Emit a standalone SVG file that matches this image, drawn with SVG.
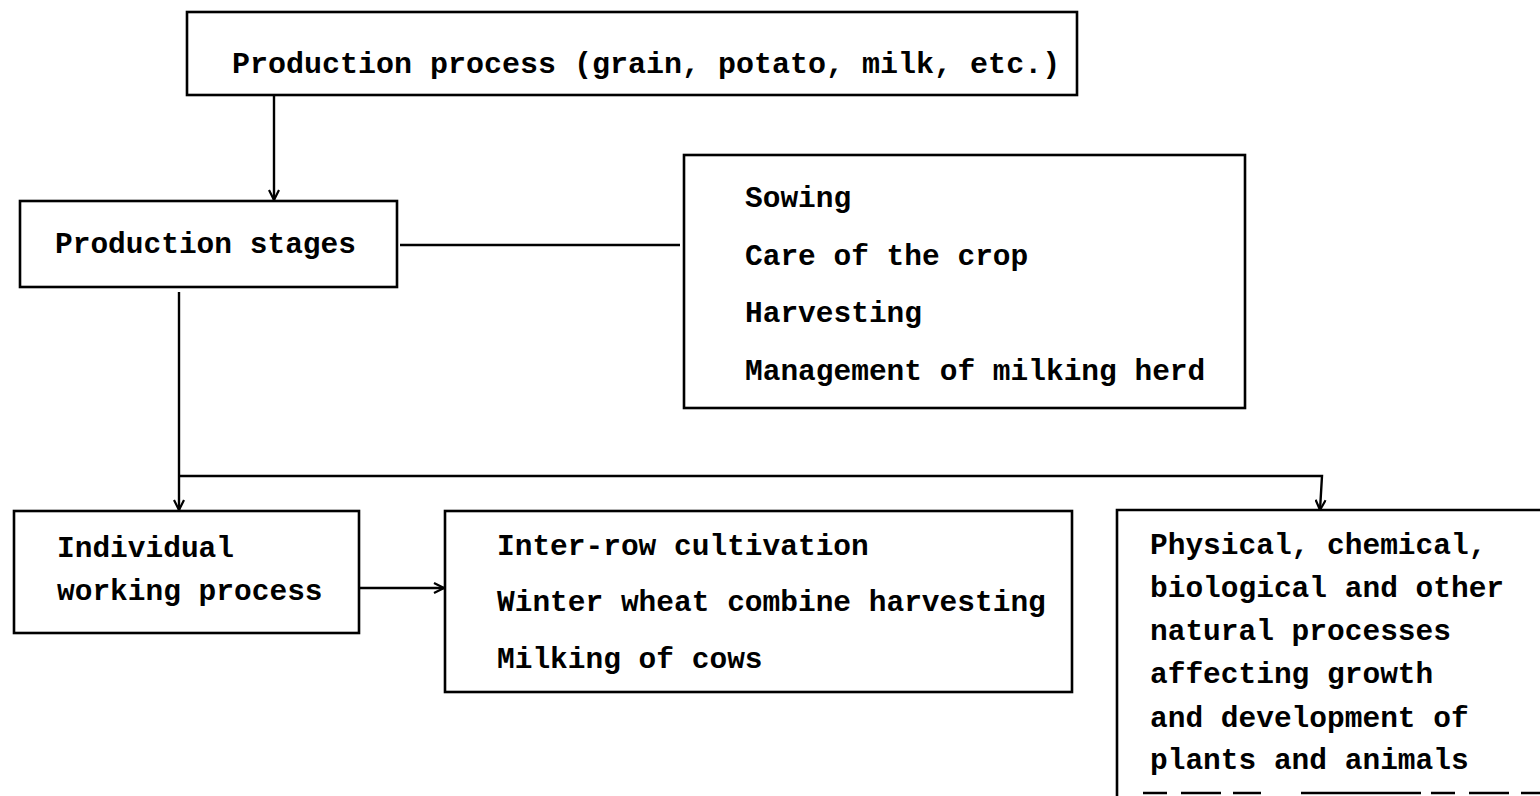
<svg xmlns="http://www.w3.org/2000/svg" width="1540" height="796" viewBox="0 0 1540 796">
<style>
.box{fill:none;stroke:#000;stroke-width:2.6}
.ln{fill:none;stroke:#000;stroke-width:2.4}
text{font-family:"Liberation Mono","Courier New",monospace;font-size:29.5px;font-weight:bold;fill:#000}
</style>
<defs>
<marker id="ah" viewBox="0 0 12 12" refX="11" refY="6" markerWidth="12" markerHeight="12" markerUnits="userSpaceOnUse" orient="auto">
<path d="M1,1 L11,6 L1,11" fill="none" stroke="#000" stroke-width="2.2"/>
</marker>
</defs>
<rect width="1540" height="796" fill="#fff"/>
<g id="connectors">
<line class="ln" x1="274" y1="95" x2="274" y2="200" marker-end="url(#ah)"/>
<line class="ln" x1="400" y1="245" x2="680" y2="245"/>
<line class="ln" x1="179" y1="292" x2="179" y2="510" marker-end="url(#ah)"/>
<polyline class="ln" points="179,476 1322,476 1320,510" marker-end="url(#ah)"/>
<line class="ln" x1="360" y1="588" x2="444" y2="588" marker-end="url(#ah)"/>
</g>
<g id="node-production-process">
<rect class="box" x="187" y="12" width="890" height="83"/>
<text x="232" y="73" style="font-size:30px">Production process (grain, potato, milk, etc.)</text>
</g>
<g id="node-production-stages">
<rect class="box" x="20" y="201" width="377" height="86"/>
<text x="55" y="253">Production stages</text>
</g>
<g id="node-stages-list">
<rect class="box" x="684" y="155" width="561" height="253"/>
<text x="745" y="207">Sowing</text>
<text x="745" y="265">Care of the crop</text>
<text x="745" y="322">Harvesting</text>
<text x="745" y="380">Management of milking herd</text>
</g>
<g id="node-individual">
<rect class="box" x="14" y="511" width="345" height="122"/>
<text x="57" y="557">Individual</text>
<text x="57" y="600">working process</text>
</g>
<g id="node-working-list">
<rect class="box" x="445" y="511" width="627" height="181"/>
<text x="497" y="555">Inter-row cultivation</text>
<text x="497" y="611">Winter wheat combine harvesting</text>
<text x="497" y="668">Milking of cows</text>
</g>
<g id="node-natural">
<polyline class="box" points="1117,796 1117,510 1545,510"/>
<line class="box" x1="1143" y1="793" x2="1545" y2="793" stroke-dasharray="24,14,40,12,28,40,120,10"/>
<text x="1150" y="554">Physical, chemical,</text>
<text x="1150" y="597">biological and other</text>
<text x="1150" y="640">natural processes</text>
<text x="1150" y="683">affecting growth</text>
<text x="1150" y="727">and development of</text>
<text x="1150" y="769">plants and animals</text>
</g>
</svg>
